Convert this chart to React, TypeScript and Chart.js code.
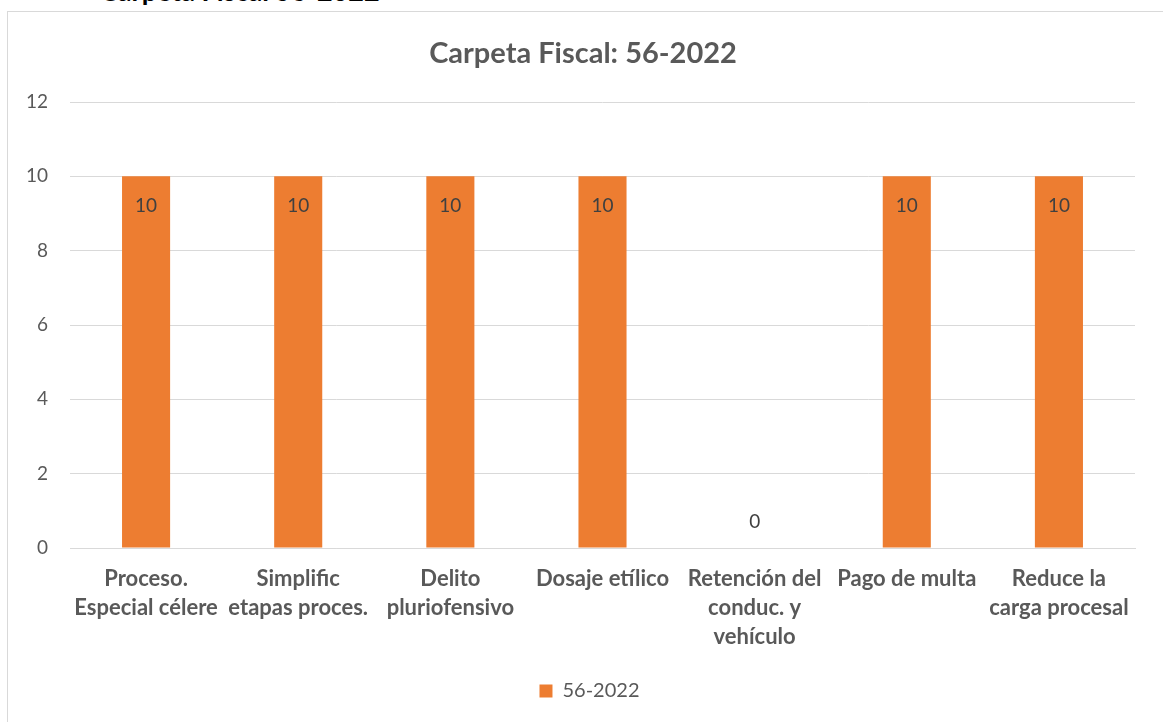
import React, { useEffect, useRef } from "react";
import { Chart, registerables } from "chart.js";

Chart.register(...registerables);

const categories: (string | string[])[] = [
  ["Proceso.", "Especial célere"],
  ["Simplific", "etapas proces."],
  ["Delito", "pluriofensivo"],
  "Dosaje etílico",
  ["Retención del", "conduc. y", "vehículo"],
  "Pago de multa",
  ["Reduce la", "carga procesal"],
];
const seriesName = "56-2022";
const values = [10, 10, 10, 10, 0, 10, 10];
const chartTitle = "Carpeta Fiscal: 56-2022";
const yMin = 0;
const yMax = 12;
const yStep = 2;

const FONT = "Lato, 'Open Sans', sans-serif";
const ORANGE = "#ED7D31";

const labelPlugin = {
  id: "valueLabels",
  afterDatasetsDraw(chart: any) {
    const ctx = chart.ctx;
    const meta = chart.getDatasetMeta(0);
    ctx.save();
    ctx.font = `19px ${FONT}`;
    ctx.fillStyle = "#404040";
    ctx.textAlign = "center";
    ctx.textBaseline = "middle";
    meta.data.forEach((el: any, i: number) => {
      const v = chart.data.datasets[0].data[i];
      const y = v > 0 ? el.y + 30 : el.y - 26;
      ctx.fillText(String(v), el.x, y);
    });
    ctx.restore();
  },
};

const titlePlugin = {
  id: "customTitle",
  afterDraw(chart: any) {
    const ctx = chart.ctx;
    ctx.save();
    ctx.font = `bold 29px ${FONT}`;
    ctx.fillStyle = "#595959";
    ctx.textAlign = "center";
    ctx.textBaseline = "middle";
    ctx.fillText(chartTitle, 575, 42);
    ctx.restore();
  },
};

export default function App() {
  const ref = useRef<HTMLCanvasElement>(null);
  useEffect(() => {
    document.body.style.margin = "0";
    const chart = new Chart(ref.current!, {
      type: "bar",
      data: {
        labels: categories,
        datasets: [
          {
            label: seriesName,
            data: values,
            backgroundColor: ORANGE,
            borderWidth: 0,
            categoryPercentage: 1,
            barPercentage: 0.316,
          },
        ],
      },
      plugins: [labelPlugin, titlePlugin],
      options: {
        animation: false,
        responsive: false,
        maintainAspectRatio: false,
        layout: { padding: { top: 90, right: 0, left: 8, bottom: 11 } },
        plugins: {
          title: { display: false },
          tooltip: { enabled: false },
          legend: {
            display: true,
            position: "bottom",
            labels: {
              boxWidth: 13,
              boxHeight: 13,
              color: "#595959",
              font: { family: FONT, size: 20 },
              padding: 10,
            },
          },
        },
        scales: {
          x: {
            grid: { display: false, drawTicks: false },
            border: { display: true, color: "#d9d9d9", width: 1 },
            ticks: {
              color: "#595959",
              font: { family: FONT, size: 22, weight: "bold", lineHeight: "29px" },
              padding: 16,
              maxRotation: 0,
              autoSkip: false,
            },
            afterFit(scale: any) {
              scale.height = 123;
            },
          },
          y: {
            min: yMin,
            max: yMax,
            ticks: {
              stepSize: yStep,
              color: "#595959",
              font: { family: FONT, size: 19 },
              padding: 22,
            },
            grid: { color: "#d9d9d9", lineWidth: 1, drawTicks: false },
            border: { display: false },
            afterFit(scale: any) {
              scale.width = 54;
            },
          },
          yRightSpacer: {
            type: "linear",
            position: "right",
            display: true,
            grid: { display: false, drawTicks: false },
            border: { display: false },
            ticks: { display: false },
            afterFit(scale: any) {
              scale.width = 28;
            },
          },
        },
      },
    });
    return () => chart.destroy();
  }, []);

  return (
    <div style={{ position: "relative", width: 1163, height: 722, overflow: "hidden", background: "#fff" }}>
      <div
        style={{
          position: "absolute",
          left: 100,
          top: -23,
          fontFamily: FONT,
          fontWeight: "bold",
          fontSize: 27,
          lineHeight: "27px",
          color: "#000",
          whiteSpace: "nowrap",
        }}
      >
        Carpeta Fiscal 56-2022
      </div>
      <div
        style={{
          position: "absolute",
          left: 7,
          top: 11,
          width: 1170,
          height: 730,
          border: "1px solid #d9d9d9",
          boxSizing: "border-box",
        }}
      >
        <canvas ref={ref} width={1155} height={710} style={{ display: "block", width: 1155, height: 710 }} />
      </div>
    </div>
  );
}
